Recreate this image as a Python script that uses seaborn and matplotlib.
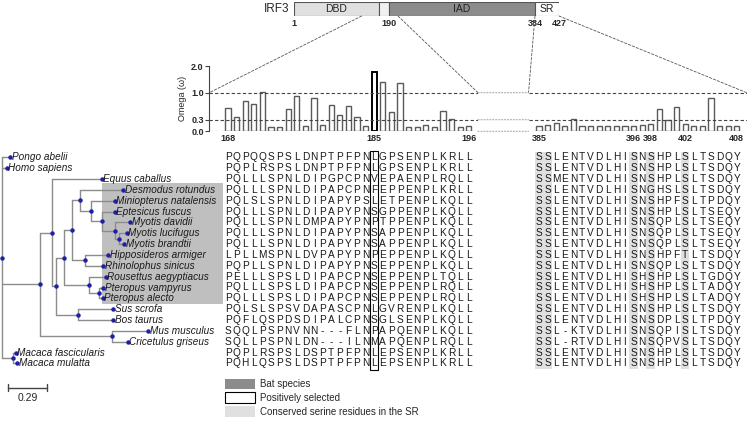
import numpy as np
import matplotlib
matplotlib.use("Agg")
import matplotlib.pyplot as plt
import seaborn as sns
from matplotlib.patches import Rectangle, Patch, ConnectionPatch

sns.set_style("white")
plt.rcParams['font.family'] = ['Liberation Sans', 'DejaVu Sans']

# ---- data ----
species = ["Pongo abelii", "Homo sapiens", "Equus caballus", "Desmodus rotundus",
           "Miniopterus natalensis", "Eptesicus fuscus", "Myotis davidii",
           "Myotis lucifugus", "Myotis brandtii", "Hipposideros armiger",
           "Rhinolophus sinicus", "Rousettus aegyptiacus", "Pteropus vampyrus",
           "Pteropus alecto", "Sus scrofa", "Bos taurus", "Mus musculus",
           "Cricetulus griseus", "Macaca fascicularis", "Macaca mulatta"]
bat_species = species[3:14]

seq_left = ["PQPQQSPSLDNPTPFPNLGPSENPLKRLL", "PQPLRSPSLDNPTPFPNLGPSENPLKRLL",
            "PQLLLSPNLDIPGPCPNVEPAENPLRQLL", "PQLLLSPNLDIPAPCPNFEPPENPLKRLL",
            "PQLSLSPNLDIPAPYPSLETPENPLKQLL", "PQLLLSPNLDIPAPYPNSGPPENPLKQLL",
            "PQLLLSPNLDMPAPYPNPTPPENPLKQLL", "PQLLLSPNLDIPAPYPNSAPPENPLKQLL",
            "PQLLLSPNLDIPAPYPNSAPPENPLKQLL", "LPLLMSPNLDVPAPYPNPEPPENPLKQLL",
            "PQPLLSPNLDIPAPYPNSEPPENPLKQLL", "PELLLSPSLDIPAPCPNSEPPENPLTQLL",
            "PQLLLSPSLDIPAPCPNSEPPENPLRQLL", "PQLLLSPSLDIPAPCPNSEPPENPLRQLL",
            "PQLSLSPSVDAPASCPNLGVRENPLKQLL", "PQFLQSPDSDIPALCPNSGLSENPLKQLL",
            "SQQLPSPNVNN---FLNPAPQENPLKQLL", "SQLLPSPNLDN---ILNMAPQENPLRQLL",
            "PQPLRSPSLDSPTPFPNLEPSENPLKRLL", "PQHLQSPSLDSPTPFPNLEPSENPLKRLL"]
seq_right = ["SSLENTVDLHISNSHPLSLTSDQY", "SSLENTVDLHISNSHPLSLTSDQY",
             "SSMENTVDLHISNSHPLSLTSDQY", "SSLENTVDLHISNGHSLSLTSDQY",
             "SSLENTVDLHISNSHPFSLTPDQY", "SSLENTVDLHISNSHPLSLTSEQY",
             "SSLENTVDLHISNSQPLSLTSEQY", "SSLENTVDLHISNSQPLSLTSEQY",
             "SSLENTVDLHISNSQPLSLTSEQY", "SSLENTVDLHISNSHPFTLTSDQY",
             "SSLENTVDLHISNSQPLSLTSDQY", "SSLENTVDLHISHSHPLSLTGDQY",
             "SSLENTVDLHISHSHPLSLTADQY", "SSLENTVDLHISHSHPLSLTADQY",
             "SSLENTVDLHISNSHPLSLTSDQY", "SSLENTVDLHISNSDPLSLTPDQY",
             "SSL-KTVDLHISNSQPISLTSDQY", "SSL-RTVDLHISNSQPVSLTSDQY",
             "SSLENTVDLHISNSHPLSLTSDQY", "SSLENTVDLHISNSHPLSLTSDQY"]

pos_left = list(range(168, 197))
omega_left = [0.60, 0.36, 0.78, 0.70, 1.01, 0.10, 0.10, 0.58, 0.91, 0.145,
              0.86, 0.16, 0.67, 0.43, 0.65, 0.37, 0.145, 1.79, 1.39, 0.49,
              1.35, 0.12, 0.10, 0.155, 0.12, 0.53, 0.32, 0.12, 0.13]
pos_right = list(range(385, 409))
omega_right = [0.14, 0.155, 0.21, 0.13, 0.31, 0.145, 0.13, 0.13, 0.13, 0.13,
               0.145, 0.14, 0.17, 0.18, 0.57, 0.29, 0.62, 0.20, 0.13, 0.13,
               0.86, 0.145, 0.13, 0.13]
left_ticks = [168, 185, 196]
right_ticks = [385, 396, 398, 402, 408]
selected_site = 185
serine_sites = [385, 386, 396, 398, 402]
omega_ticks = [0.0, 0.3, 1.0, 2.0]
omega_lines = [1.0, 0.3]

domain_names = ["DBD", "", "IAD", "SR"]
domain_start = [1, 182, 190, 384]
domain_end = [182, 190, 384, 427]
domain_colors = ["#e0e0e0", "#f0f0f0", "#8c8c8c", "white"]
domain_ticks = [1, 190, 384, 427]

# gene tree: (name or children, branch length)
tree = ([
    ("Pongo abelii", 0.057),
    ("Homo sapiens", 0.033),
    ([
        ([
            ("Equus caballus", 0.372),
            ([
                ([
                    ([
                        ([("Desmodus rotundus", 0.322),
                          ([("Miniopterus natalensis", 0.181),
                            ([("Eptesicus fuscus", 0.099),
                              ([("Myotis davidii", 0.112),
                                ([("Myotis lucifugus", 0.055),
                                  ("Myotis brandtii", 0.035)], 0.032)], 0.099)],
                             0.082)], 0.080)], 0.059),
                        ([("Hipposideros armiger", 0.173),
                          ("Rhinolophus sinicus", 0.136)], 0.097),
                    ], 0.059),
                    ([("Rousettus aegyptiacus", 0.124),
                      ([("Pteropus vampyrus", 0.030),
                        ("Pteropus alecto", 0.025)], 0.074)], 0.188),
                ], 0.059),
                ([("Sus scrofa", 0.260), ("Bos taurus", 0.260)], 0.166),
            ], 0.032),
        ], 0.087),
        ([("Mus musculus", 0.268), ("Cricetulus griseus", 0.114)], 0.538),
    ], 0.280),
    ([("Macaca fascicularis", 0.018), ("Macaca mulatta", 0.030)], 0.082),
], 0.0)
scale_len = 0.29

# ---- layout helpers (pixel boxes) ----
W, H = 747, 423
fig = plt.figure(figsize=(W / 100, H / 100), dpi=100)


def px_axes(x0, y0, x1, y1):
    return fig.add_axes([x0 / W, 1 - y1 / H, (x1 - x0) / W, (y1 - y0) / H])


row_top, row_h = 157.3, 10.85
aln_y0, aln_y1 = row_top - row_h / 2, row_top + 19.5 * row_h
bar_y0, bar_y1 = 66, 131.3
lx0, lx1 = 209.3, 478
rx0, rx1 = 528.5, 746.7
pitch = 8.6
lxlim = (168 - (228 - lx0) / pitch, 168 + (lx1 - 228) / pitch)
rxlim = (385 - (539 - rx0) / pitch, 385 + (rx1 - 539) / pitch)

# omega axis: 0-1 stretched, 1-2 compressed
okn_v, okn_p = [0, 1, 2], [0, 38.6, 65.3]
o_fwd = lambda v: np.interp(v, okn_v, okn_p)
o_inv = lambda p: np.interp(p, okn_p, okn_v)

dark = "#444444"

# ---- domain diagram ----
ax_dom = px_axes(294, 1.7, 559, 16)
dk_r, dk_p = [1, 168, 190, 196, 384, 427], [294, 361.7, 389, 398, 535, 559]
d_fwd = lambda v: np.interp(v, dk_r, dk_p)
d_inv = lambda p: np.interp(p, dk_p, dk_r)
ax_dom.set_xscale('function', functions=(d_fwd, d_inv))
ax_dom.barh(0.5, np.array(domain_end) - np.array(domain_start), left=domain_start,
            height=1, color=domain_colors, edgecolor="#555555", linewidth=0.8)
for n, s, e in zip(domain_names, domain_start, domain_end):
    ax_dom.text(d_inv((d_fwd(s) + d_fwd(e)) / 2), 0.5, n, ha='center', va='center',
                fontsize=7.5, color="#222222")
for t in domain_ticks:
    ax_dom.text(t, -0.5, str(t), ha='center', va='center', fontsize=6.5,
                fontweight='bold')
ax_dom.annotate("IRF3", xy=(1, 0.5), xytext=(-3, 0), textcoords='offset points',
                ha='right', va='center', fontsize=8.5)
ax_dom.set_xlim(1, 427)
ax_dom.set_ylim(0, 1)
ax_dom.axis('off')

# ---- omega bar panels ----
ax_bl = px_axes(lx0, bar_y0, lx1, bar_y1)
ax_br = px_axes(rx0, bar_y0, rx1, bar_y1)
for ax, pos, om, lim, ticks in [(ax_bl, pos_left, omega_left, lxlim, left_ticks),
                                (ax_br, pos_right, omega_right, rxlim, right_ticks)]:
    sns.barplot(x=pos, y=om, native_scale=True, width=0.6, color="white",
                edgecolor="#5a5a5a", linewidth=1, errorbar=None, ax=ax)
    for p, x in zip(ax.patches, pos):
        if x == selected_site:
            p.set_edgecolor("black")
            p.set_linewidth(1.4)
    ax.set_yscale('function', functions=(o_fwd, o_inv))
    ax.set_ylim(0, 2)
    ax.set_xlim(*lim)
    for v in omega_lines:
        ax.axhline(v, ls=(0, (3, 2)), color=dark, lw=0.8, zorder=3)
    ax.axhline(0, color="#999999", lw=0.8, zorder=3)
    ax.set_xticks(ticks)
    ax.set_xticklabels([str(t) for t in ticks], fontsize=6.5, fontweight='bold')
    ax.tick_params(axis='x', length=0, pad=2)
    for s in ax.spines.values():
        s.set_visible(False)
    ax.set_facecolor("none")
    ax.set_xlabel("")

ax_bl.spines['left'].set_visible(True)
ax_bl.spines['left'].set_color(dark)
ax_bl.spines['left'].set_linewidth(0.8)
ax_bl.set_yticks(omega_ticks)
ax_bl.set_yticklabels([f"{t:.1f}" for t in omega_ticks], fontsize=6.5, fontweight='bold')
ax_bl.tick_params(axis='y', length=3, width=0.8, color=dark, pad=1, left=True)
ax_bl.set_ylabel("Omega (ω)", fontsize=6.5, labelpad=3)
ax_br.set_yticks([])

# zoom connectors and gap lines
conn = dict(ls=(0, (3, 2)), color="#555555", lw=0.6)
for dx, ax, bx in [(168, ax_bl, lxlim[0]), (196, ax_bl, lxlim[1]),
                   (384, ax_br, rxlim[0]), (427, ax_br, rxlim[1])]:
    fig.add_artist(ConnectionPatch(xyA=(dx, 0), coordsA=ax_dom.transData,
                                   xyB=(bx, 1.0), coordsB=ax.transData, **conn))
for v in [1.0, 0.3, 0.0]:
    fig.add_artist(ConnectionPatch(xyA=(lxlim[1], v), coordsA=ax_bl.transData,
                                   xyB=(rxlim[0], v), coordsB=ax_br.transData,
                                   ls=':', color="#aaaaaa", lw=0.8))

# ---- alignments ----
ax_al = px_axes(lx0, aln_y0, lx1, aln_y1)
ax_ar = px_axes(rx0, aln_y0, rx1, aln_y1)
for ax, seqs, pos, lim in [(ax_al, seq_left, pos_left, lxlim),
                           (ax_ar, seq_right, pos_right, rxlim)]:
    for i, s in enumerate(seqs):
        for x, ch in zip(pos, s):
            ax.text(x, i, ch, ha='center', va='center', fontsize=7.3, color="#1a1a1a")
    ax.set_xlim(*lim)
    ax.set_ylim(19.5, -0.5)
    ax.axis('off')

for s in serine_sites:
    ax_ar.axvspan(s - 0.5, s + 0.5, color="#e0e0e0", zorder=0, lw=0)
ax_al.add_patch(Rectangle((selected_site - 0.45, -0.6), 0.9, 20.2, fill=False,
                          edgecolor="black", lw=0.8, clip_on=False))

ax_al.legend(handles=[Patch(facecolor="#8c8c8c", edgecolor="none", label="Bat species"),
                      Patch(facecolor="white", edgecolor="black", lw=0.8,
                            label="Positively selected"),
                      Patch(facecolor="#e0e0e0", edgecolor="none",
                            label="Conserved serine residues in the SR")],
             loc='upper left', bbox_to_anchor=(0.058, -0.045), frameon=False,
             fontsize=7, handlelength=3.1, handleheight=1.25, labelspacing=0.35,
             handletextpad=0.5, borderaxespad=0, borderpad=0)

# ---- tree ----
xscale = 134.5
tree_x1 = 223.3
ax_t = px_axes(0, aln_y0, tree_x1, aln_y0 + 23.5 * row_h)
line_c, dot_c = "#8c8c8c", "#1f1fa8"


def draw(node, x0):
    kids, bl = node
    x = x0 + bl
    if isinstance(kids, str):
        y = species.index(kids)
        ax_t.plot([x0, x], [y, y], color=line_c, lw=1, zorder=2)
        ax_t.plot(x, y, 'o', ms=2.2, color=dot_c, zorder=4)
        ax_t.text(x + 0.012, y, kids, style='italic', va='center', fontsize=7.2,
                  color="#1a1a1a", zorder=5)
        return y
    ys = [draw(k, x) for k in kids]
    y = (min(ys) + max(ys)) / 2
    ax_t.plot([x, x], [min(ys), max(ys)], color=line_c, lw=1, zorder=2)
    ax_t.plot([x0, x], [y, y], color=line_c, lw=1, zorder=2)
    ax_t.plot(x, y, 'o', ms=2.2, color=dot_c, zorder=4)
    return y


draw(tree, 0.0)
xl = (-2.3 / xscale, (tree_x1 - 2.3) / xscale)
bat_rows = [species.index(s) for s in bat_species]
ax_t.add_patch(Rectangle((0.7435, min(bat_rows) - 0.6), xl[1] - 0.7435,
                         max(bat_rows) - min(bat_rows) + 1.15,
                         facecolor="#bfbfbf", edgecolor="none", zorder=0))
sb_y, sb_x = 21.23, 0.0446
ax_t.plot([sb_x, sb_x + scale_len], [sb_y, sb_y], color=dark, lw=1)
for xx in [sb_x, sb_x + scale_len]:
    ax_t.plot([xx, xx], [sb_y - 0.35, sb_y + 0.35], color=dark, lw=1)
ax_t.text(sb_x + scale_len / 2, sb_y + 0.95, f"{scale_len}", ha='center', va='center',
          fontsize=7.5)
ax_t.set_xlim(*xl)
ax_t.set_ylim(23, -0.5)
ax_t.axis('off')

fig.savefig("out.png", dpi=100)
